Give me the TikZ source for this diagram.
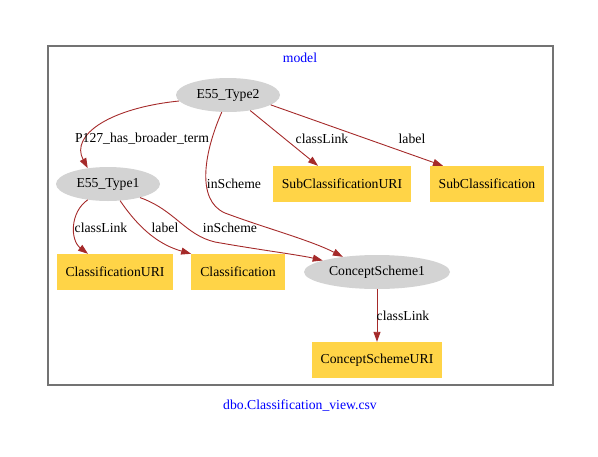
\documentclass[tikz,border=0pt]{standalone}
\usepackage{fontspec}
\setmainfont{Liberation Serif}
\usetikzlibrary{arrows.meta,shapes.geometric}
\definecolor{edgebrown}{HTML}{A52A2A}
\definecolor{boxgold}{HTML}{FFD447}
\definecolor{ovalgray}{HTML}{D3D3D3}

\begin{document}
\begin{tikzpicture}[x=1pt, y=-1pt,
    font=\fontsize{13.7}{16}\selectfont,
    oval/.style={ellipse, fill=ovalgray, minimum height=34pt, inner sep=0pt},
    box/.style={rectangle, fill=boxgold, minimum height=36pt, inner xsep=9pt},
    link/.style={draw=edgebrown, line width=0.9pt, -{Triangle[length=10pt,width=7pt]}},
    lbl/.style={inner sep=1pt}]
    \useasboundingbox (0,0) rectangle (598,456);
    \draw[black!55, line width=1.3pt] (48,46) rectangle (553,385);
    \node[text=blue] (title) at (300,58) {model};
    \node[text=blue] (caption) at (300,406) {dbo.Classification\_view.csv};

    \node[oval, minimum width=104pt] (type2) at (228,95) {E55\_Type2};
    \node[oval, minimum width=104pt] (type1) at (108,184) {E55\_Type1};
    \node[box] (suburi) at (342,184) {SubClassificationURI};
    \node[box] (sub) at (487,184) {SubClassification};
    \node[box] (clsuri) at (115,272) {ClassificationURI};
    \node[box] (cls) at (238,272) {Classification};
    \node[oval, minimum width=146pt] (scheme) at (377,272) {ConceptScheme1};
    \node[box] (schemeuri) at (377,360) {ConceptSchemeURI};

    \draw[link] (type2.187) .. controls (110,108) and (70,135) .. (type1.142)
        node[lbl] at (142,139) {P127\_has\_broader\_term};
    \draw[link] (type2.-35) -- ([xshift=-24pt]suburi.north)
        node[lbl] at (322,139) {classLink};
    \draw[link] (type2.-13) -- ([xshift=-44pt]sub.north)
        node[lbl] at (412,139) {label};
    \draw[link] (type2.250) .. controls (205,150) and (195,200) .. (225,213)
        .. controls (265,228) and (310,240) .. (scheme.156)
        node[lbl] at (234,184) {inScheme};
    \draw[link] (type1.218) .. controls (70,212) and (70,240) .. ([xshift=-27pt]clsuri.north)
        node[lbl] at (101,228) {classLink};
    \draw[link] (type1.-54) .. controls (140,230) and (160,245) .. (cls.north west)
        node[lbl] at (165,228) {label};
    \draw[link] (type1.-23) .. controls (175,210) and (185,235) .. (215,242)
        .. controls (260,250) and (300,255) .. (scheme.168)
        node[lbl] at (230,228) {inScheme};
    \draw[link] (scheme) -- (schemeuri)
        node[lbl] at (403,316) {classLink};
\end{tikzpicture}
\end{document}
